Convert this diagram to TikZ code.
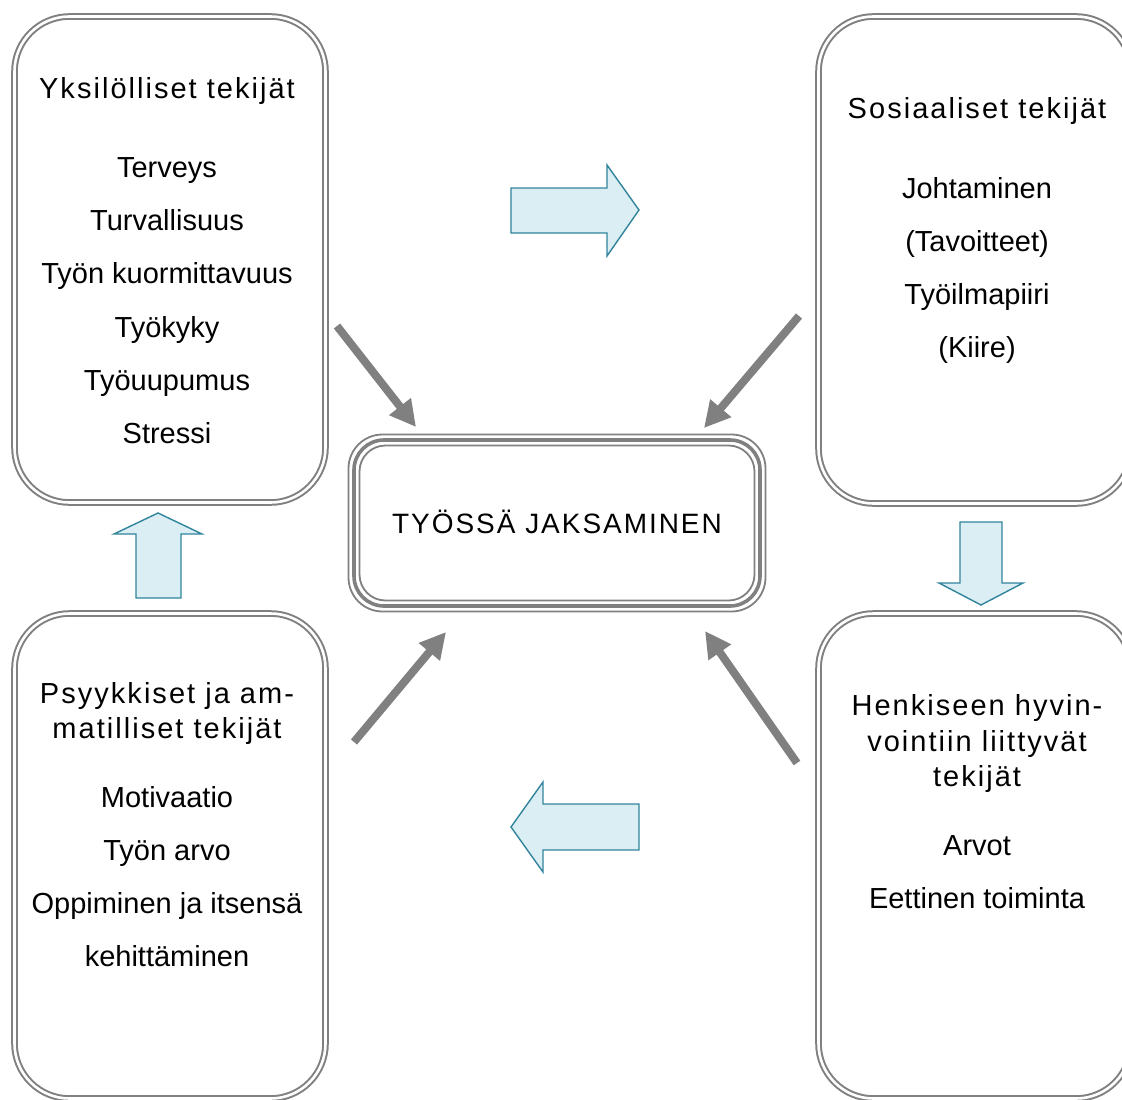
\documentclass[tikz,border=0pt]{standalone}
\usepackage{fontspec}
\setmainfont{Liberation Sans}
\newfontfamily\titlefont[LetterSpace=7]{Liberation Sans}
\usetikzlibrary{arrows.meta}
\definecolor{boxgray}{HTML}{808080}
\definecolor{blockfill}{HTML}{DAEEF3}
\definecolor{blockline}{HTML}{31849B}
\tikzset{
  framebox/.style={draw=boxgray, line width=2pt, double=white, double distance=2.6pt, rounded corners=55pt},
  titletext/.style={anchor=base, inner sep=0pt, font=\titlefont\fontsize{29}{34}\selectfont},
  itemtext/.style={anchor=base, inner sep=0pt, font=\fontsize{29}{34}\selectfont},
  influence/.style={draw=boxgray, line width=8pt, -{Triangle[length=26pt,width=26pt]}},
  blockarrow/.style={draw=blockline, fill=blockfill, line width=1.4pt, line join=miter},
}
\begin{document}
\begin{tikzpicture}[x=1pt,y=-1pt]
\useasboundingbox (0,0) rectangle (1122,1100);
\clip (0,0) rectangle (1122,1100);

% outer boxes
\draw[framebox] (14.5,16.5) rectangle (325.5,502.5);
\draw[framebox] (818.5,16.5) rectangle (1131,503.5);
\draw[framebox] (14.5,613.5) rectangle (325.5,1098.5);
\draw[framebox] (818.5,613.5) rectangle (1131,1098.5);

% centre box
\draw[draw=boxgray, line width=1.8pt, rounded corners=34pt] (348.5,434.5) rectangle (765.5,611.5);
\draw[draw=boxgray, line width=3.6pt, rounded corners=30pt] (354,440) rectangle (760,606);
\draw[draw=boxgray, line width=1.8pt, rounded corners=26pt] (359.5,445.5) rectangle (754.5,600.5);
\node[anchor=base, inner sep=0pt, font=\titlefont\fontsize{28}{32}\selectfont] (centre) at (557,533) {TYÖSSÄ JAKSAMINEN};

% top left
\node[titletext] (tlt) at (167,98) {Yksilölliset tekijät};
\node[itemtext] (tl1) at (167,177) {Terveys};
\node[itemtext] (tl2) at (167,230) {Turvallisuus};
\node[itemtext] (tl3) at (167,283) {Työn kuormittavuus};
\node[itemtext] (tl4) at (167,337) {Työkyky};
\node[itemtext] (tl5) at (167,390) {Työuupumus};
\node[itemtext] (tl6) at (167,443) {Stressi};

% top right
\node[titletext] (trt) at (977,118) {Sosiaaliset tekijät};
\node[itemtext] (tr1) at (977,198) {Johtaminen};
\node[itemtext] (tr2) at (977,251) {(Tavoitteet)};
\node[itemtext] (tr3) at (977,304) {Työilmapiiri};
\node[itemtext] (tr4) at (977,357) {(Kiire)};

% bottom left
\node[titletext] (blt1) at (167,703) {Psyykkiset ja am-};
\node[titletext] (blt2) at (167,738) {matilliset tekijät};
\node[itemtext] (bl1) at (167,807) {Motivaatio};
\node[itemtext] (bl2) at (167,860) {Työn arvo};
\node[itemtext] (bl3) at (167,913) {Oppiminen ja itsensä};
\node[itemtext] (bl4) at (167,966) {kehittäminen};

% bottom right
\node[titletext] (brt1) at (977,715) {Henkiseen hyvin-};
\node[titletext] (brt2) at (977,751) {vointiin liittyvät};
\node[titletext] (brt3) at (977,786) {tekijät};
\node[itemtext] (br1) at (977,855) {Arvot};
\node[itemtext] (br2) at (977,908) {Eettinen toiminta};

% influence arrows
\coordinate (a1s) at (337,326);
\coordinate (a1e) at (416,427);
\coordinate (a2s) at (799,316);
\coordinate (a2e) at (704,428);
\coordinate (a3s) at (354,742);
\coordinate (a3e) at (446,632);
\coordinate (a4s) at (797,763);
\coordinate (a4e) at (705,631);
\draw[influence] (a1s) -- (a1e);
\draw[influence] (a2s) -- (a2e);
\draw[influence] (a3s) -- (a3e);
\draw[influence] (a4s) -- (a4e);

% block arrows
\draw[blockarrow] (511,188) -- (607,188) -- (607,165) -- (639,210) -- (607,256) -- (607,233) -- (511,233) -- cycle;
\draw[blockarrow] (960,522) -- (1002,522) -- (1002,583) -- (1023,583) -- (981,605) -- (939,583) -- (960,583) -- cycle;
\draw[blockarrow] (136,598) -- (136,534) -- (114,534) -- (158,513) -- (202,534) -- (181,534) -- (181,598) -- cycle;
\draw[blockarrow] (639,804) -- (543,804) -- (543,782) -- (511,827) -- (543,872) -- (543,850) -- (639,850) -- cycle;
\end{tikzpicture}
\end{document}
